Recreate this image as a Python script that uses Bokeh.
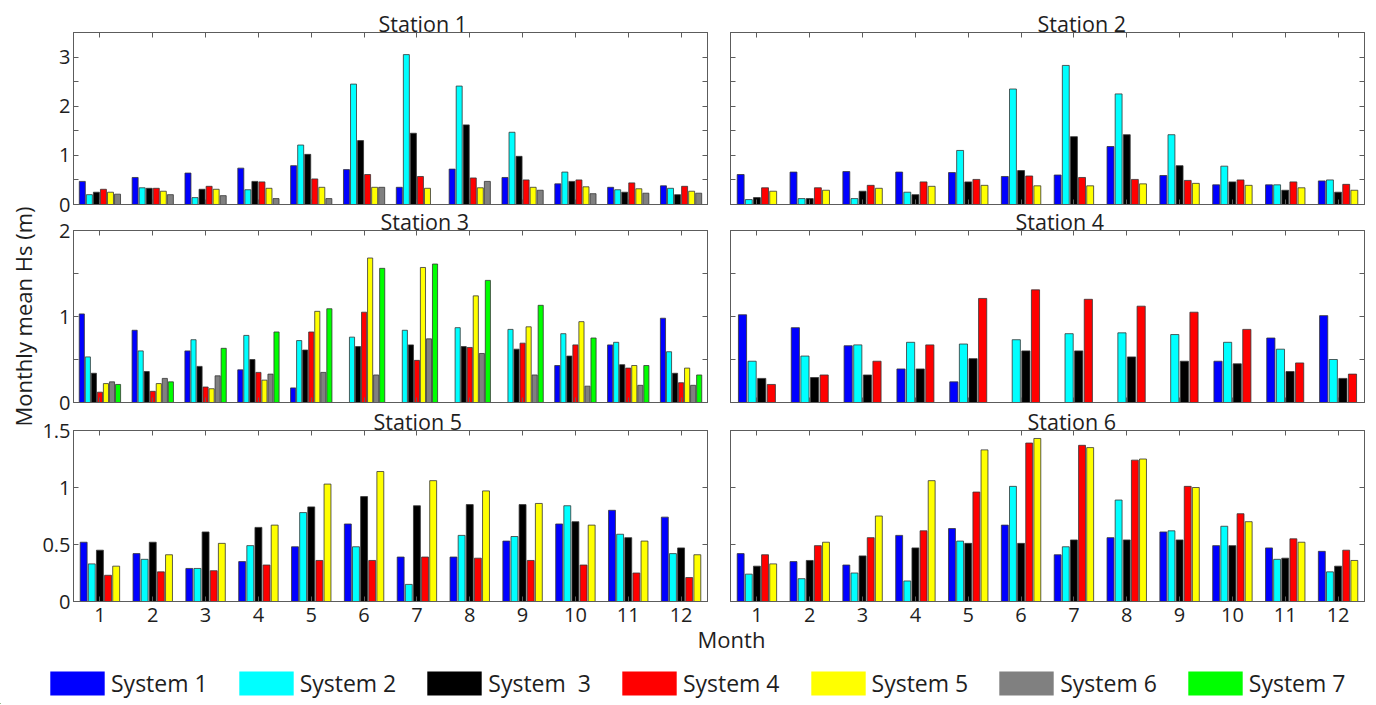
from bokeh.plotting import figure
from bokeh.layouts import column, row
from bokeh.models import (ColumnDataSource, Range1d, LinearAxis, FixedTicker,
                          Legend, LegendItem, Label, NumeralTickFormatter, Title)
from bokeh.transform import dodge
from bokeh.embed import file_html
from bokeh.resources import INLINE

# ---------------- data ----------------
months = [1, 2, 3, 4, 5, 6, 7, 8, 9, 10, 11, 12]
system_names = ["System 1", "System 2", "System  3", "System 4", "System 5", "System 6", "System 7"]
system_colors = ["#0000FF", "#00FFFF", "#000000", "#FF0000", "#FFFF00", "#808080", "#00FF00"]
station_titles = ["Station 1", "Station 2", "Station 3", "Station 4", "Station 5", "Station 6"]
x_label = "Month"
y_label = "Monthly mean Hs (m)"
N = None

st1_sys1 = [0.47, 0.55, 0.64, 0.74, 0.79, 0.71, 0.35, 0.72, 0.55, 0.42, 0.35, 0.38]
st1_sys2 = [0.20, 0.34, 0.14, 0.30, 1.21, 2.45, 3.05, 2.41, 1.47, 0.66, 0.30, 0.33]
st1_sys3 = [0.25, 0.33, 0.31, 0.47, 1.02, 1.30, 1.45, 1.62, 0.98, 0.47, 0.25, 0.20]
st1_sys4 = [0.31, 0.33, 0.37, 0.46, 0.52, 0.61, 0.57, 0.54, 0.50, 0.50, 0.44, 0.37]
st1_sys5 = [0.25, 0.27, 0.31, 0.33, 0.35, 0.35, 0.33, 0.34, 0.35, 0.36, 0.32, 0.27]
st1_sys6 = [0.21, 0.20, 0.18, 0.12, 0.12, 0.35, N, 0.47, 0.29, 0.22, 0.23, 0.23]

st2_sys1 = [0.61, 0.66, 0.67, 0.66, 0.65, 0.57, 0.60, 1.18, 0.59, 0.40, 0.40, 0.48]
st2_sys2 = [0.10, 0.12, 0.12, 0.25, 1.10, 2.35, 2.83, 2.25, 1.42, 0.78, 0.40, 0.50]
st2_sys3 = [0.14, 0.12, 0.27, 0.20, 0.46, 0.69, 1.38, 1.42, 0.79, 0.46, 0.29, 0.25]
st2_sys4 = [0.34, 0.34, 0.39, 0.46, 0.51, 0.58, 0.55, 0.51, 0.49, 0.50, 0.46, 0.41]
st2_sys5 = [0.27, 0.29, 0.33, 0.37, 0.39, 0.38, 0.38, 0.42, 0.43, 0.39, 0.34, 0.29]

st3_sys1 = [1.03, 0.84, 0.60, 0.38, 0.17, N, N, N, N, 0.43, 0.67, 0.98]
st3_sys2 = [0.53, 0.60, 0.73, 0.78, 0.72, 0.76, 0.84, 0.87, 0.85, 0.80, 0.70, 0.59]
st3_sys3 = [0.34, 0.36, 0.42, 0.50, 0.61, 0.65, 0.67, 0.65, 0.62, 0.54, 0.44, 0.34]
st3_sys4 = [0.12, 0.13, 0.18, 0.35, 0.82, 1.05, 0.49, 0.64, 0.69, 0.67, 0.40, 0.23]
st3_sys5 = [0.22, 0.22, 0.16, 0.26, 1.06, 1.68, 1.57, 1.24, 0.88, 0.94, 0.43, 0.40]
st3_sys6 = [0.24, 0.28, 0.31, 0.33, 0.35, 0.32, 0.74, 0.57, 0.32, 0.19, 0.20, 0.20]
st3_sys7 = [0.21, 0.24, 0.63, 0.82, 1.09, 1.56, 1.61, 1.42, 1.13, 0.75, 0.43, 0.32]

st4_sys1 = [1.02, 0.87, 0.66, 0.39, 0.24, N, N, N, N, 0.48, 0.75, 1.01]
st4_sys2 = [0.48, 0.54, 0.67, 0.70, 0.68, 0.73, 0.80, 0.81, 0.79, 0.70, 0.62, 0.50]
st4_sys3 = [0.28, 0.29, 0.32, 0.39, 0.51, 0.60, 0.60, 0.53, 0.48, 0.45, 0.36, 0.28]
st4_sys4 = [0.21, 0.32, 0.48, 0.67, 1.21, 1.31, 1.20, 1.12, 1.05, 0.85, 0.46, 0.33]

st5_sys1 = [0.52, 0.42, 0.29, 0.35, 0.48, 0.68, 0.39, 0.39, 0.53, 0.68, 0.80, 0.74]
st5_sys2 = [0.33, 0.37, 0.29, 0.49, 0.78, 0.48, 0.15, 0.58, 0.57, 0.84, 0.59, 0.42]
st5_sys3 = [0.45, 0.52, 0.61, 0.65, 0.83, 0.92, 0.84, 0.85, 0.85, 0.70, 0.56, 0.47]
st5_sys4 = [0.23, 0.26, 0.27, 0.32, 0.36, 0.36, 0.39, 0.38, 0.36, 0.32, 0.25, 0.21]
st5_sys5 = [0.31, 0.41, 0.51, 0.67, 1.03, 1.14, 1.06, 0.97, 0.86, 0.67, 0.53, 0.41]

st6_sys1 = [0.42, 0.35, 0.32, 0.58, 0.64, 0.67, 0.41, 0.56, 0.61, 0.49, 0.47, 0.44]
st6_sys2 = [0.24, 0.20, 0.25, 0.18, 0.53, 1.01, 0.48, 0.89, 0.62, 0.66, 0.37, 0.26]
st6_sys3 = [0.31, 0.36, 0.40, 0.47, 0.51, 0.51, 0.54, 0.54, 0.54, 0.49, 0.38, 0.31]
st6_sys4 = [0.41, 0.49, 0.56, 0.62, 0.96, 1.39, 1.37, 1.24, 1.01, 0.77, 0.55, 0.45]
st6_sys5 = [0.33, 0.52, 0.75, 1.06, 1.33, 1.43, 1.35, 1.25, 1.00, 0.70, 0.52, 0.36]

station_series = [
    [st1_sys1, st1_sys2, st1_sys3, st1_sys4, st1_sys5, st1_sys6],
    [st2_sys1, st2_sys2, st2_sys3, st2_sys4, st2_sys5],
    [st3_sys1, st3_sys2, st3_sys3, st3_sys4, st3_sys5, st3_sys6, st3_sys7],
    [st4_sys1, st4_sys2, st4_sys3, st4_sys4],
    [st5_sys1, st5_sys2, st5_sys3, st5_sys4, st5_sys5],
    [st6_sys1, st6_sys2, st6_sys3, st6_sys4, st6_sys5],
]

row_ymax = [3.5, 2.0, 1.5]
row_major = [[0, 1, 2, 3], [0, 1, 2], [0, 0.5, 1, 1.5]]
row_minor = [[0.5, 1.5, 2.5, 3.5], [0.5, 1.5], []]

# ---------------- style / layout ----------------
FONT = "Open Sans"
AXC = "#5c5c5c"
TXT = "#1e1e1e"
EDGE = "#353535"
FRAME_W = 634
row_frame_h = [172, 172, 171]
row_top = [32, 40, 40]
row_bottom = [14, 30, 36]
row_margin = [0, -28, -42]
col_left = [73, 13]
col_right = [10, 8]
title_offset = [305, 307, 307, 285, 300, 297]
LEG_H = 84
LEG_MARGIN = -17


def style_axis(ax, show_labels, standoff):
    ax.axis_line_color = AXC
    ax.major_tick_line_color = AXC
    ax.minor_tick_line_color = AXC
    ax.major_tick_in = 5
    ax.major_tick_out = 0
    ax.minor_tick_in = 5
    ax.minor_tick_out = 0
    if show_labels:
        ax.major_label_text_font = FONT
        ax.major_label_text_font_size = "20px"
        ax.major_label_text_color = TXT
        ax.major_label_standoff = standoff
    else:
        ax.major_label_text_font_size = "0px"
        ax.major_label_text_color = None
        ax.major_label_standoff = 0


def make_panel(k):
    r, c = divmod(k, 2)
    series = station_series[k]
    n = len(series)
    ymax = row_ymax[r]
    title = Title(text=station_titles[k], align="left", vertical_align="top",
                  offset=title_offset[k], standoff=-14, text_font=FONT,
                  text_font_size="21.5px", text_font_style="normal", text_color=TXT)
    p = figure(output_backend="svg", toolbar_location=None, title=title,
               frame_width=FRAME_W, frame_height=row_frame_h[r],
               x_range=Range1d(0.5, 12.5), y_range=Range1d(0, ymax),
               x_axis_location=None, y_axis_location=None,
               outline_line_color=AXC, background_fill_color="white",
               border_fill_color=None,
               min_border_left=col_left[c], min_border_right=col_right[c],
               min_border_top=row_top[r], min_border_bottom=row_bottom[r])
    p.grid.visible = False

    group_w = min(0.8, n / (n + 1.5))
    slot = group_w / n
    for i, vals in enumerate(series):
        xs = [m for m, v in zip(months, vals) if v is not None]
        ys = [v for v in vals if v is not None]
        src = ColumnDataSource(dict(month=xs, top=ys))
        off = -group_w / 2 + slot * (i + 0.5)
        p.vbar(x=dodge("month", off, range=p.x_range), top="top", bottom=0,
               width=slot * 0.85, source=src, fill_color=system_colors[i],
               line_color=EDGE, line_width=0.8)

    show_y = (c == 0)
    show_x = (r == 2)
    fmt = NumeralTickFormatter(format="0.[0]")
    for loc in ["left", "right"]:
        ax = LinearAxis(ticker=FixedTicker(ticks=row_major[r], minor_ticks=row_minor[r]),
                        formatter=fmt)
        style_axis(ax, show_y and loc == "left", 3)
        if loc == "left" and k == 2:
            ax.axis_label = y_label
            ax.axis_label_text_font = FONT
            ax.axis_label_text_font_size = "22px"
            ax.axis_label_text_font_style = "normal"
            ax.axis_label_text_color = TXT
            ax.axis_label_standoff = 18
        p.add_layout(ax, loc)
    for loc in ["below", "above"]:
        ax = LinearAxis(ticker=FixedTicker(ticks=months))
        style_axis(ax, show_x and loc == "below", 6)
        p.add_layout(ax, loc)
    return p


panels = [make_panel(k) for k in range(6)]

# ---------------- legend strip ----------------
leg = figure(output_backend="svg", toolbar_location=None, width=1372, height=LEG_H,
             x_range=Range1d(0, 1372), y_range=Range1d(0, LEG_H),
             x_axis_location=None, y_axis_location=None, min_border=0,
             outline_line_color=None, border_fill_color=None, background_fill_color=None)
leg.grid.visible = False
items = []
for name, col in zip(system_names, system_colors):
    # swatch renderers: one bar placed outside the visible strip
    rr = leg.vbar(x=[-50], top=[1], bottom=0, width=1, fill_color=col, line_color=None)
    items.append(LegendItem(label=name, renderers=[rr]))
legend = Legend(items=items, orientation="horizontal", location=(43, 5),
                glyph_width=68, glyph_height=30, spacing=24, label_standoff=0,
                label_text_font=FONT, label_text_font_size="23px", label_text_color=TXT,
                label_text_baseline="middle",
                border_line_color=None, background_fill_alpha=0, padding=0, margin=0)
leg.add_layout(legend)
leg.add_layout(Label(x=731, y=LEG_H - 18, text=x_label, text_align="center",
                     text_baseline="middle", text_font=FONT, text_font_size="22px",
                     text_color=TXT))

rows = [row(panels[2 * r], panels[2 * r + 1], margin=(row_margin[r], 0, 0, 0))
        for r in range(3)]
leg_row = row(leg, margin=(LEG_MARGIN, 0, 0, 0))
layout = column(*rows, leg_row)

open("out.html", "w").write(file_html(layout, INLINE))
